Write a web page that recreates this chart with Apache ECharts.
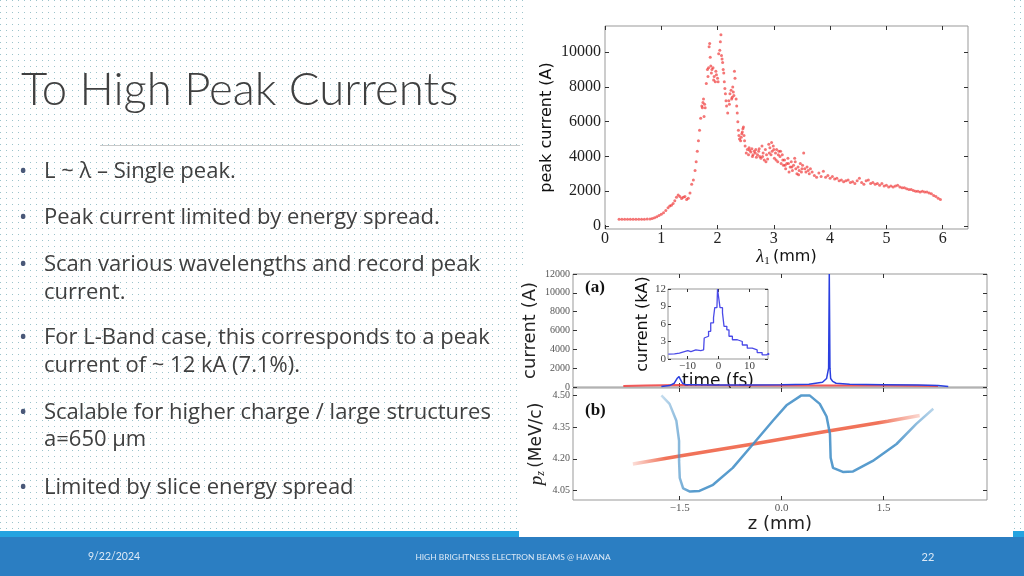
<!DOCTYPE html>
<html><head><meta charset="utf-8">
<script src="https://cdn.jsdelivr.net/npm/echarts@6/dist/echarts.min.js"></script>
<style>html,body{margin:0;padding:0;background:#fff}#c{width:1024px;height:576px}</style>
</head><body><div id="c"></div>
<script>
// ---------- DATA ----------
// Top chart: peak current (A) vs lambda_1 (mm)
const peakScan = [
[0.25,390],[0.30,390],[0.35,390],[0.40,390],[0.45,390],[0.50,390],[0.55,390],[0.60,390],[0.65,390],[0.70,395],[0.75,400],[0.80,410],
[0.84,430],[0.88,470],[0.92,540],[0.96,610],[1.00,680],[1.04,760],[1.08,900],[1.12,1050],[1.15,1150],[1.18,1200],[1.21,1300],[1.24,1450],
[1.27,1650],[1.30,1780],[1.33,1700],[1.36,1580],[1.39,1650],[1.42,1700],[1.45,1520],[1.48,1600],[1.51,1900],[1.54,2400],[1.57,2650],
[1.60,3200],[1.62,3700],[1.64,4300],[1.66,4900],[1.68,5500],[1.70,6200],[1.72,6900],[1.73,6800],[1.74,7100],[1.75,7300],[1.76,6300],
[1.77,7000],[1.78,6800],[1.80,8200],[1.82,9000],[1.83,8600],[1.84,9100],[1.85,10300],[1.86,10500],[1.87,9700],[1.88,9200],[1.89,8800],
[1.90,9000],[1.92,9100],[1.93,8400],[1.94,8600],[1.96,8300],[1.97,8900],[1.98,8700],[2.00,8500],[2.01,8300],[2.02,9900],[2.04,10100],
[2.05,10600],[2.06,11000],[2.07,9800],[2.08,9600],[2.09,9400],[2.10,9000],[2.11,8800],[2.12,8300],[2.13,7900],[2.14,7600],[2.15,7200],
[2.16,6900],[2.18,6500],[2.20,7200],[2.21,7000],[2.22,7600],[2.24,7800],[2.25,7300],[2.26,7400],[2.27,8000],[2.28,7700],[2.29,7500],
[2.30,8900],[2.31,8500],[2.33,7300],[2.34,6900],[2.35,6500],[2.36,6000],[2.37,5500],[2.38,5200],[2.39,5000],[2.41,4900],[2.42,5100],
[2.43,5300],[2.44,5400],[2.45,5600],[2.46,5700],[2.47,5200],[2.48,4900],[2.49,4600],
[2.51,4200],[2.53,4400],[2.55,4100],[2.57,4350],[2.59,4250],[2.61,4450],[2.63,4100],[2.65,4300],[2.67,4200],[2.69,3950],[2.71,4100],
[2.73,4300],[2.75,4000],[2.77,3900],[2.79,4600],[2.81,4200],[2.83,3800],[2.85,4400],[2.87,4100],[2.89,3850],[2.91,4700],[2.93,4500],
[2.95,4100],[2.97,4300],[2.99,4600],[3.01,3900],[3.03,4200],[3.05,4400],[3.07,3700],[3.09,4300],[3.11,4000],[3.13,3600],[3.15,4100],
[3.17,3500],[3.19,3800],[3.21,3300],[3.23,3600],[3.25,3900],[3.27,3100],[3.29,3400],[3.31,3700],[3.33,3200],[3.35,3500],[3.37,3900],
[3.39,3300],[3.41,3000],[3.43,3400],[3.45,3200],[3.47,3600],[3.49,3100],[3.51,3500],[3.53,4200],[3.55,3300],[3.57,3100],[3.59,3400],
[3.61,3200],[3.63,3000],[3.65,3300],
[2.56,4500],[2.62,4000],[2.68,4400],[2.74,4450],[2.80,4000],[2.86,3700],[2.92,4200],[2.96,4800],[3.00,4400],[3.04,3800],[3.08,4100],
[3.12,4300],[3.16,3800],[3.20,3500],[3.26,3600],[3.32,3400],[3.38,3700],[3.44,2950],[3.50,3300],
[3.68,3100],[3.72,2900],[3.76,2800],[3.80,3050],[3.84,2850],[3.88,3150],[3.92,2800],[3.96,2900],[4.00,2750],[4.04,2850],[4.08,2700],
[4.12,2750],[4.16,2600],[4.20,2650],[4.24,2550],[4.28,2600],[4.32,2650],[4.36,2500],[4.40,2550],[4.44,2450],[4.48,2600],[4.52,2750],
[4.56,2500],[4.60,2400],[4.64,2600],[4.68,2650],[4.72,2450],[4.76,2500],[4.80,2400],[4.84,2450],[4.88,2350],[4.92,2450],[4.96,2300],
[5.00,2350],[5.04,2250],[5.08,2300],[5.12,2250],[5.16,2300],[5.20,2350],[5.24,2250],[5.28,2200],[5.32,2200],[5.36,2150],[5.40,2100],
[5.44,2100],[5.48,2050],[5.52,2000],[5.56,2000],[5.60,1950],[5.64,2000],[5.68,1950],[5.72,1950],[5.76,1900],[5.80,1850],[5.84,1750],
[5.88,1700],[5.92,1600],[5.96,1520]
];
const peakXTicks = [0,1,2,3,4,5,6];
const peakYTicks = [0,2000,4000,6000,8000,10000];

// (a) current (A) vs z (mm)
const currentRed = [[-2.33,100],[-2.0,150],[-1.5,200],[-1.0,180],[-0.5,170],[0.0,160],[0.5,170],[1.0,160],[1.5,150],[2.0,140],[2.3,100]];
const currentBlue = [[-1.77,50],[-1.65,150],[-1.58,400],[-1.54,900],[-1.51,1100],[-1.49,800],[-1.46,400],[-1.42,250],[-1.3,250],[-1.0,200],
[-0.5,200],[0.0,250],[0.4,300],[0.6,500],[0.66,900],[0.69,2000],[0.70,12000],[0.71,2000],[0.72,900],[0.75,600],[0.8,400],[1.0,300],
[1.5,250],[2.0,200],[2.3,150],[2.45,50]];
const currentYTicks = [0,2000,4000,6000,8000,10000,12000];
const zTicks = [-1.5,0,1.5];

// inset: current (kA) vs time (fs)
const insetCurrent = [[-16.2,0.85],[-15.8,0.87],[-14.2,1.0],[-12.6,1.27],[-11.0,1.45],[-9.9,1.27],[-8.9,1.56],[-7.3,1.45],[-5.7,1.56],
[-4.8,1.68],[-4.6,3.6],[-4.1,3.9],[-3.2,4.75],[-2.5,6.2],[-1.6,7.07],[-1.2,8.8],[-0.5,9.1],[-0.3,12],[0.3,12],[0.5,8.8],[1.3,7.9],
[1.8,5.6],[2.7,5.0],[3.4,3.9],[4.5,3.3],[6.1,3.0],[7.7,2.4],[9.3,1.86],[10.9,1.56],[12.5,1.1],[14.1,0.7],[15.5,1.0],[16.2,0.7]];
const insetXTicks = [-10,0,10];
const insetYTicks = [0,3,6,9,12];

// (b) p_z (MeV/c) vs z (mm)
const phaseBlue = [[-1.77,4.50],[-1.65,4.46],[-1.55,4.38],[-1.51,4.285],[-1.51,4.19],[-1.50,4.11],[-1.45,4.06],[-1.35,4.045],[-1.21,4.048],
[-1.01,4.077],[-0.72,4.157],[-0.42,4.27],[-0.13,4.38],[0.07,4.453],[0.29,4.50],[0.41,4.50],[0.56,4.46],[0.66,4.40],[0.71,4.317],[0.72,4.205],
[0.755,4.157],[0.90,4.138],[1.05,4.14],[1.34,4.19],[1.69,4.27],[1.98,4.365],[2.23,4.437]];
const phaseRed = [[-2.19,4.175],[-1.5,4.213],[-0.42,4.27],[0.71,4.333],[1.56,4.378],[2.03,4.405]];
const pzTicks = [4.05,4.20,4.35,4.50];

// slide texts
const titleText = 'To High Peak Currents';
const bullets = [
  ['L ~ λ – Single peak.'],
  ['Peak current limited by energy spread.'],
  ['Scan various wavelengths and record peak', 'current.'],
  ['For L-Band case, this corresponds to a peak', 'current of ~ 12 kA (7.1%).'],
  ['Scalable for higher charge / large structures', 'a=650 µm'],
  ['Limited by slice energy spread']
];
const bulletY = [[172],[218],[265,293],[338,366],[413,440],[488]];
const footer = {date:'9/22/2024', title:'HIGH BRIGHTNESS ELECTRON BEAMS @ HAVANA', page:'22'};

// ---------- CHART ----------
const serif = 'Liberation Serif', sans = 'DejaVu Sans', titleFont = 'Lato', bodyFont = 'Open Sans';
const chart = echarts.init(document.getElementById('c'), null, {renderer:'canvas'});

const pc = document.createElement('canvas'); pc.width = 6; pc.height = 6;
const g = pc.getContext('2d'); g.fillStyle = '#ffffff'; g.fillRect(0,0,6,6);
g.fillStyle = 'rgb(155,195,203)'; g.fillRect(0,0,1,1);

function ax(o){
  const a = {type:'value', gridIndex:o.grid, min:o.min, max:o.max, position:o.pos,
    splitLine:{show:false}, axisLine:{show:false, onZero:false},
    axisTick:{show:true, inside:true, length:o.tl||4, customValues:o.ticks, lineStyle:{color:'#333', width:1}},
    axisLabel:{show:false}};
  if (o.labels) {
    a.axisLabel = {show:true, customValues:o.ticks, fontFamily:serif, fontSize:o.fs, color:o.lc||'#222', margin:o.margin||4};
    if (o.fmt) a.axisLabel.formatter = o.fmt;
  }
  if (o.name) Object.assign(a, {name:o.name, nameLocation:'middle', nameGap:o.gap, nameRotate:o.rot||0, nameTextStyle:o.nts});
  return a;
}
const minus = v => (v < 0 ? '\u2212' : '') + Math.abs(v);
const zfmt = v => (v < 0 ? '\u2212' : '') + Math.abs(v).toFixed(1);

const grids = [
  {left:605, top:26, width:363, height:203},
  {left:573, top:274, width:414, height:113},
  {left:573, top:388, width:414, height:112},
  {left:668, top:289, width:100, height:70, backgroundColor:'#fff'}
].map(gr => Object.assign({show:true, borderColor:'#999', borderWidth:1, containLabel:false}, gr));

const zMin = -3.07, zMax = 3.02;
const xAxis = [
  ax({grid:0, min:0, max:6.45, pos:'bottom', ticks:peakXTicks, labels:true, fs:16, margin:2, fmt:v=>String(v),
      name:'{l|λ}{s|1} {n|(mm)}', gap:16, nts:{rich:{
        l:{fontFamily:serif, fontStyle:'italic', fontSize:18, color:'#111'},
        s:{fontFamily:serif, fontSize:11, color:'#111', padding:[9,0,0,0]},
        n:{fontFamily:sans, fontSize:16, color:'#111'}}}}),
  ax({grid:0, min:0, max:6.45, pos:'top', ticks:peakXTicks}),
  ax({grid:1, min:zMin, max:zMax, pos:'bottom', ticks:zTicks}),
  ax({grid:1, min:zMin, max:zMax, pos:'top', ticks:zTicks}),
  ax({grid:2, min:zMin, max:zMax, pos:'bottom', ticks:zTicks, labels:true, fs:11, lc:'#555', margin:3, fmt:zfmt,
      name:'z (mm)', gap:12, nts:{fontFamily:sans, fontSize:18, color:'#222', verticalAlign:'top'}}),
  ax({grid:2, min:zMin, max:zMax, pos:'top', ticks:zTicks}),
  ax({grid:3, min:-16.3, max:16, pos:'bottom', ticks:insetXTicks, labels:true, fs:11, lc:'#444', margin:2, fmt:minus, tl:3,
      name:'time (fs)', gap:9, nts:{fontFamily:sans, fontSize:17, color:'#111', verticalAlign:'top'}}),
  ax({grid:3, min:-16.3, max:16, pos:'top', ticks:insetXTicks, tl:3})
];
const yAxis = [
  ax({grid:0, min:-170, max:11500, pos:'left', ticks:peakYTicks, labels:true, fs:16, margin:4, fmt:v=>String(v),
      name:'peak current (A)', gap:50, rot:90, nts:{fontFamily:sans, fontSize:16, color:'#111'}}),
  ax({grid:0, min:-170, max:11500, pos:'right', ticks:peakYTicks}),
  ax({grid:1, min:0, max:12000, pos:'left', ticks:currentYTicks, labels:true, fs:10, lc:'#555', margin:3, fmt:v=>String(v),
      name:'current (A)', gap:34, rot:90, nts:{fontFamily:sans, fontSize:18, color:'#222'}}),
  ax({grid:1, min:0, max:12000, pos:'right', ticks:currentYTicks}),
  ax({grid:2, min:4.005, max:4.535, pos:'left', ticks:pzTicks, labels:true, fs:10, lc:'#555', margin:3, fmt:v=>v.toFixed(2),
      name:'{p|p}{s|z} {n|(MeV/c)}', gap:26, rot:90, nts:{rich:{
        p:{fontFamily:serif, fontStyle:'italic', fontSize:19, color:'#222'},
        s:{fontFamily:serif, fontStyle:'italic', fontSize:12, color:'#222', padding:[9,0,0,0]},
        n:{fontFamily:sans, fontSize:17, color:'#222'}}}}),
  ax({grid:2, min:4.005, max:4.535, pos:'right', ticks:pzTicks}),
  ax({grid:3, min:0, max:12, pos:'left', ticks:insetYTicks, labels:true, fs:11, lc:'#444', margin:2, fmt:v=>String(v), tl:3,
      name:'current (kA)', gap:14, rot:90, nts:{fontFamily:sans, fontSize:16, color:'#111'}}),
  ax({grid:3, min:0, max:12, pos:'right', ticks:insetYTicks, tl:3})
];

const fade = (rgb, a0, a1, a2) => ({type:'linear', x:0, y:0, x2:1, y2:0, colorStops:[
  {offset:0, color:`rgba(${rgb},${a0})`},{offset:0.12, color:`rgba(${rgb},${a1})`},
  {offset:0.85, color:`rgba(${rgb},${a1})`},{offset:1, color:`rgba(${rgb},${a2})`}]});

const series = [
  {type:'scatter', xAxisIndex:0, yAxisIndex:0, data:peakScan, symbolSize:3, silent:true,
   itemStyle:{color:'rgba(238,40,40,0.8)'}},
  {type:'line', xAxisIndex:2, yAxisIndex:2, data:currentRed, showSymbol:false, silent:true,
   lineStyle:{color:'rgba(240,60,60,0.85)', width:2}},
  {type:'line', xAxisIndex:2, yAxisIndex:2, data:currentBlue, showSymbol:false, silent:true,
   lineStyle:{color:'#2a3fe0', width:1.5}},
  {type:'line', xAxisIndex:6, yAxisIndex:6, data:insetCurrent, step:'end', showSymbol:false, silent:true,
   lineStyle:{color:'#4a4ae8', width:1.3}},
  {type:'line', xAxisIndex:4, yAxisIndex:4, data:phaseRed, showSymbol:false, silent:true, z:3,
   lineStyle:{color:fade('238,90,60',0.15,0.85,0.2), width:3.5}},
  {type:'line', xAxisIndex:4, yAxisIndex:4, data:phaseBlue, showSymbol:false, silent:true, z:4,
   lineStyle:{color:fade('70,145,200',0.25,0.9,0.35), width:2.5}}
];

const elements = [
  {type:'rect', z:-100, shape:{x:0, y:0, width:1024, height:576}, style:{fill:{image:pc, repeat:'repeat'}}, silent:true},
  {type:'rect', z:-90, shape:{x:0, y:531, width:1024, height:6}, style:{fill:'#24a3e0'}, silent:true},
  {type:'rect', z:-90, shape:{x:0, y:537, width:1024, height:39}, style:{fill:'#2b7ec2'}, silent:true},
  {type:'rect', z:-80, shape:{x:525, y:0, width:488, height:266}, style:{fill:'#fff'}, silent:true},
  {type:'rect', z:-80, shape:{x:519, y:266, width:494, height:271}, style:{fill:'#fff'}, silent:true},
  {type:'line', z:-70, shape:{x1:100, y1:145.5, x2:520, y2:145.5}, style:{stroke:'#c9c9c9', lineWidth:1}, silent:true},
  {type:'text', z:100, style:{text:titleText, x:21, y:90, font:'300 45.5px ' + titleFont, fill:'#404040', textVerticalAlign:'middle'}},
  {type:'text', z:100, style:{text:'(a)', x:585, y:288, font:'bold 17px ' + serif, fill:'#111', textVerticalAlign:'middle'}},
  {type:'text', z:100, style:{text:'(b)', x:585, y:411, font:'bold 17px ' + serif, fill:'#111', textVerticalAlign:'middle'}},
  {type:'text', z:100, style:{text:footer.date, x:88, y:557, font:'10.5px ' + titleFont, fill:'#dce9f6', textVerticalAlign:'middle'}},
  {type:'text', z:100, style:{text:footer.title, x:513, y:557, font:'8.4px ' + titleFont, fill:'#dce9f6', textAlign:'center', textVerticalAlign:'middle'}},
  {type:'text', z:100, style:{text:footer.page, x:928, y:557, font:'11px ' + titleFont, fill:'#dce9f6', textAlign:'center', textVerticalAlign:'middle'}}
];
bullets.forEach((lines, i) => {
  elements.push({type:'text', z:100, style:{text:'•', x:19, y:bulletY[i][0], font:'22px ' + bodyFont, fill:'#4a5878', textVerticalAlign:'middle'}});
  lines.forEach((t, j) => elements.push({type:'text', z:100,
    style:{text:t, x:44, y:bulletY[i][j], font:'22px ' + bodyFont, fill:'#404040', textVerticalAlign:'middle'}}));
});

chart.setOption({
  animation:false,
  backgroundColor:'transparent',
  grid:grids, xAxis, yAxis, series,
  graphic:{elements}
});
</script></body></html>
